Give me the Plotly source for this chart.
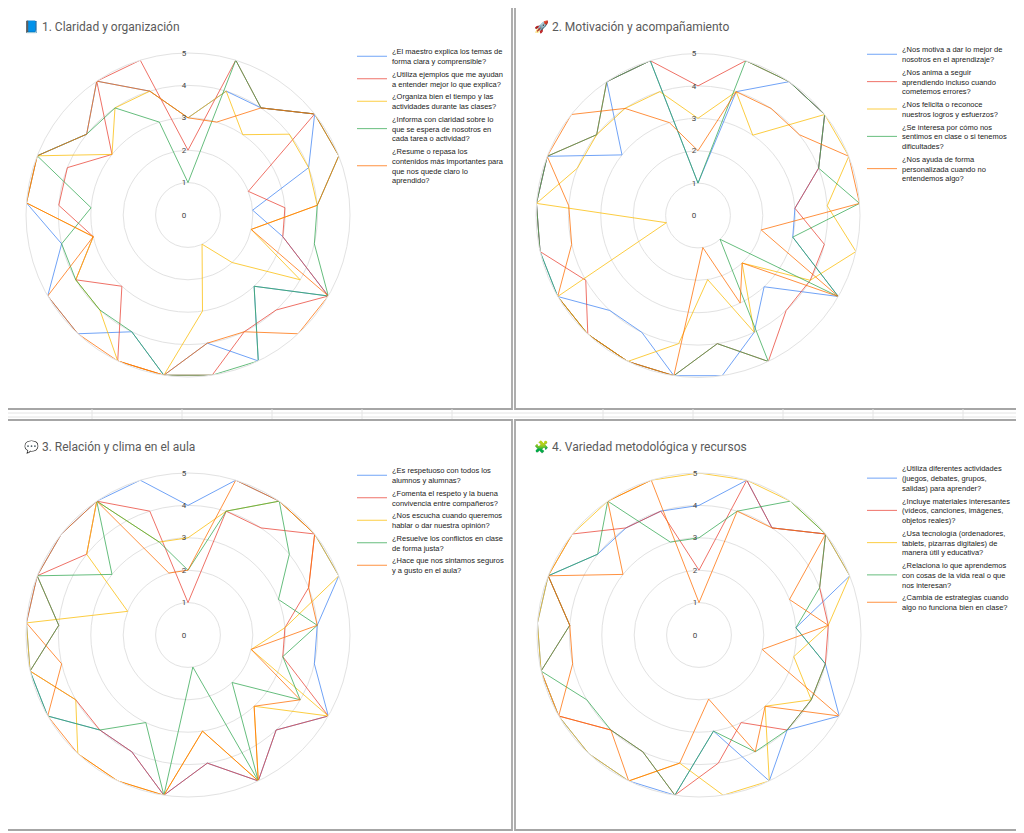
import plotly.graph_objects as go

# ---------------- data ----------------
respuestas = ["R1", "R2", "R3", "R4", "R5", "R6", "R7", "R8", "R9", "R10", "R11",
              "R12", "R13", "R14", "R15", "R16", "R17", "R18", "R19", "R20", "R21"]
radial_ticks = [0, 1, 2, 3, 4, 5]
colores = ["#4285F4", "#EA4335", "#FBBC04", "#34A853", "#FF6D01"]

titulo_1 = "📘 1. Claridad y organización"
preguntas_1 = [
    "¿El maestro explica los temas de<br>forma clara y comprensible?",
    "¿Utiliza ejemplos que me ayudan<br>a entender mejor lo que explica?",
    "¿Organiza bien el tiempo y las<br>actividades durante las clases?",
    "¿Informa con claridad sobre lo<br>que se espera de nosotros en<br>cada tarea o actividad?",
    "¿Resume o repasa los<br>contenidos más importantes para<br>que nos quede claro lo<br>aprendido?",
]
p1_explica = [3, 4, 4, 5, 4, 2, 3, 5, 3, 5, 4, 5, 4, 5, 5, 4, 5, 5, 4, 5, 4]
p1_ejemplos = [2, 5, 4, 5, 2, 3, 3, 5, 4, 4, 5, 5, 5, 3, 4, 3, 4, 4, 3, 5, 5]
p1_organiza = [3, 4, 3, 4, 4, 4, 2, 4, 2, 1, 3, 5, 5, 4, 4, 3, 5, 5, 3, 4, 4]
p1_informa = [1, 5, 4, 5, 5, 4, 4, 5, 3, 5, 5, 5, 4, 4, 4, 4, 3, 5, 4, 4, 3]
p1_resume = [3, 3, 4, 5, 5, 4, 2, 5, 5, 4, 4, 5, 5, 5, 5, 3, 5, 5, 4, 5, 4]

titulo_2 = "🚀 2. Motivación y acompañamiento"
preguntas_2 = [
    "¿Nos motiva a dar lo mejor de<br>nosotros en el aprendizaje?",
    "¿Nos anima a seguir<br>aprendiendo incluso cuando<br>cometemos errores?",
    "¿Nos felicita o reconoce<br>nuestros logros y esfuerzos?",
    "¿Se interesa por cómo nos<br>sentimos en clase o si tenemos<br>dificultades?",
    "¿Nos ayuda de forma<br>personalizada cuando no<br>entendemos algo?",
]
p2_motiva = [1, 4, 5, 5, 4, 3, 3, 5, 3, 4, 5, 5, 4, 4, 5, 5, 5, 5, 3, 5, 5]
p2_anima = [4, 5, 5, 5, 4, 3, 4, 4, 4, 5, 4, 5, 5, 5, 4, 5, 5, 5, 4, 5, 5]
p2_felicita = [3, 4, 3, 5, 5, 4, 5, 4, 2, 4, 2, 4, 5, 5, 5, 1, 5, 4, 4, 4, 4]
p2_interesa = [1, 5, 5, 5, 4, 5, 3, 5, 1, 5, 4, 5, 5, 5, 5, 5, 5, 5, 4, 5, 5]
p2_ayuda = [2, 4, 4, 4, 5, 5, 2, 5, 2, 3, 1, 5, 5, 5, 5, 4, 4, 5, 5, 4, 3]

titulo_3 = "💬 3. Relación y clima en el aula"
preguntas_3 = [
    "¿Es respetuoso con todos los<br>alumnos y alumnas?",
    "¿Fomenta el respeto y la buena<br>convivencia entre compañeros?",
    "¿Nos escucha cuando queremos<br>hablar o dar nuestra opinión?",
    "¿Resuelve los conflictos en clase<br>de forma justa?",
    "¿Hace que nos sintamos seguros<br>y a gusto en el aula?",
]
p3_respetuoso = [4, 5, 5, 5, 5, 4, 4, 5, 4, 5, 4, 5, 4, 4, 5, 5, 5, 5, 5, 5, 5]
p3_fomenta = [1, 4, 4, 5, 4, 3, 3, 5, 4, 5, 4, 5, 4, 4, 4, 5, 4, 5, 4, 5, 4]
p3_escucha = [3, 4, 5, 5, 5, 3, 2, 5, 3, 5, 3, 5, 5, 5, 4, 5, 5, 2, 4, 5, 3]
p3_resuelve = [2, 4, 5, 4, 3, 4, 3, 4, 2, 5, 1, 5, 3, 4, 5, 5, 4, 5, 3, 5, 3]
p3_seguros = [2, 5, 5, 5, 4, 4, 2, 4, 3, 5, 3, 5, 5, 5, 5, 4, 5, 5, 5, 5, 2]

titulo_4 = "🧩 4. Variedad metodológica y recursos"
preguntas_4 = [
    "¿Utiliza diferentes actividades<br>(juegos, debates, grupos,<br>salidas) para aprender?",
    "¿Incluye materiales interesantes<br>(vídeos, canciones, imágenes,<br>objetos reales)?",
    "¿Usa tecnología (ordenadores,<br>tablets, pizarras digitales) de<br>manera útil y educativa?",
    "¿Relaciona lo que aprendemos<br>con cosas de la vida real o que<br>nos interesan?",
    "¿Cambia de estrategias cuando<br>algo no funciona bien en clase?",
]
p4_actividades = [4, 5, 4, 5, 5, 3, 4, 5, 4, 5, 3, 5, 5, 5, 5, 5, 5, 5, 4, 4, 4]
p4_materiales = [2, 5, 4, 5, 4, 4, 4, 4, 4, 3, 4, 5, 4, 4, 5, 5, 4, 5, 5, 4, 4]
p4_tecnologia = [5, 5, 5, 5, 5, 4, 3, 4, 3, 5, 5, 4, 5, 5, 5, 5, 5, 5, 5, 5, 5]
p4_relaciona = [3, 4, 5, 5, 4, 3, 4, 4, 4, 4, 3, 5, 4, 4, 4, 5, 4, 5, 4, 5, 3]
p4_estrategias = [1, 4, 4, 5, 3, 4, 2, 5, 3, 4, 2, 4, 5, 4, 5, 4, 4, 5, 3, 5, 5]

paneles = [
    (titulo_1, preguntas_1, [p1_explica, p1_ejemplos, p1_organiza, p1_informa, p1_resume]),
    (titulo_2, preguntas_2, [p2_motiva, p2_anima, p2_felicita, p2_interesa, p2_ayuda]),
    (titulo_3, preguntas_3, [p3_respetuoso, p3_fomenta, p3_escucha, p3_resuelve, p3_seguros]),
    (titulo_4, preguntas_4, [p4_actividades, p4_materiales, p4_tecnologia, p4_relaciona, p4_estrategias]),
]

# ---------------- layout geometry (screen pixels) ----------------
W, H = 1024, 833
OFF = 8  # the page body adds an 8px margin around the figure


def fx(x):
    return (x - OFF) / W


def fy(y):
    return 1 - (y - OFF) / H


cajas = [(5, 2, 512, 409), (515, 2, 1022, 409), (5, 420, 512, 830), (515, 420, 1022, 830)]
centros = [(188, 215), (698, 215.5), (188, 635), (699, 635)]
radio = 162
leyendas = [(352, 40), (862, 38), (352, 459), (862, 457)]
titulos = [(22, 27), (532, 27), (22, 447), (532, 447)]

fig = go.Figure()
layout_extra = {}
anotaciones = []
formas = []

for i, (titulo, preguntas, series) in enumerate(paneles):
    sub = "polar" if i == 0 else f"polar{i + 1}"
    leg = "legend" if i == 0 else f"legend{i + 1}"
    for j, (pregunta, vals) in enumerate(zip(preguntas, series)):
        fig.add_trace(go.Scatterpolar(
            r=vals + vals[:1],
            theta=respuestas + respuestas[:1],
            mode="lines",
            line=dict(color=colores[j], width=1),
            opacity=0.75,
            name=pregunta,
            subplot=sub,
            legend=leg,
            hoverinfo="skip",
        ))
    cx, cy = centros[i]
    layout_extra[sub] = dict(
        domain=dict(x=[fx(cx - radio), fx(cx + radio)], y=[fy(cy + radio), fy(cy - radio)]),
        bgcolor="rgba(0,0,0,0)",
        radialaxis=dict(
            range=[0, 5], tickvals=radial_ticks, angle=90, side="counterclockwise",
            showline=False, gridcolor="#e2e2e2", gridwidth=1, ticks="",
            tickfont=dict(family="Roboto, Arial, sans-serif", size=8, color="#444444"),
            tickangle=90,
        ),
        angularaxis=dict(
            type="category", categoryarray=respuestas, direction="clockwise", rotation=90,
            showgrid=False, showticklabels=False, ticks="",
            showline=True, linecolor="#e2e2e2", linewidth=1,
        ),
    )
    lx, ly = leyendas[i]
    layout_extra[leg] = dict(
        x=fx(lx), y=fy(ly), xanchor="left", yanchor="top",
        bgcolor="rgba(0,0,0,0)", borderwidth=0,
        font=dict(family="Arial, Liberation Sans, sans-serif", size=7.5, color="#222222"),
        itemclick=False, itemdoubleclick=False,
    )
    tx, ty = titulos[i]
    anotaciones.append(dict(
        x=fx(tx), y=fy(ty), xref="paper", yref="paper", xanchor="left", yanchor="middle",
        text=titulo, showarrow=False,
        font=dict(family="Roboto, Arial, sans-serif", size=12, color="#5a5a5a"),
    ))
    x0, y0, x1, y1 = cajas[i]
    formas.append(dict(
        type="rect", xref="paper", yref="paper",
        x0=fx(x0), x1=fx(x1), y0=fy(y1), y1=fy(y0),
        line=dict(color="#a6a6a6", width=1.8), fillcolor="rgba(0,0,0,0)", layer="below",
    ))

# faint spreadsheet gridlines in the gap between the two rows of charts
for gy in (413, 417):
    formas.append(dict(type="line", xref="paper", yref="paper", x0=0, x1=1, y0=fy(gy), y1=fy(gy),
                       line=dict(color="#e4e4e4", width=1), layer="below"))
for gx in (92, 182, 272, 362, 452, 603, 693, 783, 873, 963):
    formas.append(dict(type="line", xref="paper", yref="paper", x0=fx(gx), x1=fx(gx), y0=fy(419), y1=fy(409),
                       line=dict(color="#e4e4e4", width=1), layer="below"))

fig.update_layout(
    width=W, height=H,
    margin=dict(l=0, r=0, t=0, b=0),
    paper_bgcolor="white",
    plot_bgcolor="white",
    annotations=anotaciones,
    shapes=formas,
    showlegend=True,
    **layout_extra,
)

fig.write_html("out.html")
